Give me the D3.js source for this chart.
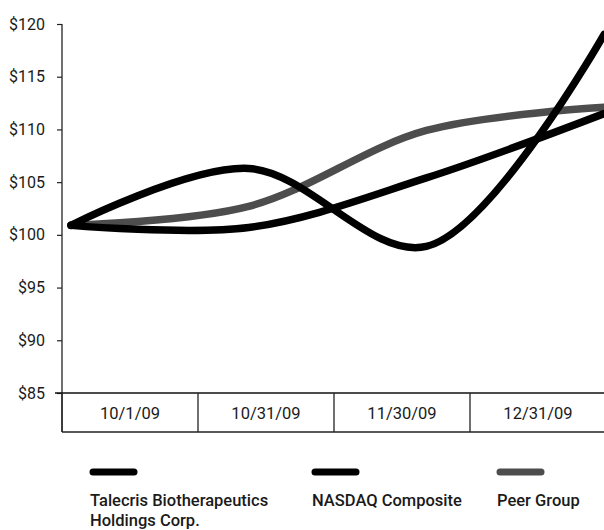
<!DOCTYPE html>
<html>
<head>
<meta charset="utf-8">
<script src="https://cdn.jsdelivr.net/npm/d3@7"></script>
<style>
  html, body { margin: 0; padding: 0; background: #fff; }
  svg text { font-family: Roboto, "Liberation Sans", sans-serif; fill: #1a1a1a; }
</style>
</head>
<body>
<svg id="chart" width="604" height="530"></svg>
<script>
const dates = ["10/1/09", "10/31/09", "11/30/09", "12/31/09"];
const talecris = [100.9, 106.3, 98.9, 119.0];
const nasdaq = [100.9, 100.7, 105.4, 111.5];
const peer = [100.9, 102.7, 109.9, 112.1];
const yTicks = [85, 90, 95, 100, 105, 110, 115, 120];
const seriesNames = ["Talecris Biotherapeutics|Holdings Corp.", "NASDAQ Composite", "Peer Group"];
const seriesColors = ["#000", "#000", "#4d4d4d"];

const svg = d3.select("#chart");
const y = d3.scaleLinear().domain([85, 120]).range([393, 24]);
const xLine = d3.scalePoint().domain(dates).range([71, 604]);
const xBand = d3.scaleBand().domain(dates).range([62, 606]);

// y axis
const yAxis = d3.axisLeft(y).tickValues(yTicks).tickSize(5).tickPadding(12)
  .tickFormat(d => "$" + d);
const gy = svg.append("g").attr("transform", "translate(62,0)").call(yAxis);
gy.select(".domain").remove();
gy.selectAll(".tick line").attr("stroke", "#222").attr("stroke-width", 1.2);
gy.selectAll(".tick text").style("font-size", "16px").attr("fill", "#1a1a1a")
  .attr("x", -17).style("font-family", "Roboto, sans-serif");
svg.append("line").attr("x1", 62).attr("x2", 62).attr("y1", 24).attr("y2", 432)
  .attr("stroke", "#222").attr("stroke-width", 1.3);

// category boxes
svg.append("line").attr("x1", 55).attr("x2", 604).attr("y1", y(85)).attr("y2", y(85))
  .attr("stroke", "#111").attr("stroke-width", 1.5);
svg.append("line").attr("x1", 62).attr("x2", 604).attr("y1", 432).attr("y2", 432)
  .attr("stroke", "#222").attr("stroke-width", 1.3);
svg.selectAll(".sep").data(dates).enter().append("line")
  .attr("x1", d => xBand(d)).attr("x2", d => xBand(d))
  .attr("y1", y(85)).attr("y2", 432)
  .attr("stroke", "#222").attr("stroke-width", 1.3);
svg.selectAll(".cat").data(dates).enter().append("text")
  .attr("x", d => xBand(d) + xBand.bandwidth() / 2)
  .attr("y", 413).attr("dy", "0.35em")
  .attr("text-anchor", "middle").style("font-size", "16.5px")
  .text(d => d);

// lines
const line = d3.line()
  .x((d, i) => xLine(dates[i]))
  .y(d => y(d))
  .curve(d3.curveCatmullRom.alpha(0.5));
const allSeries = [peer, nasdaq, talecris];
const allColors = [seriesColors[2], seriesColors[1], seriesColors[0]];
svg.append("clipPath").attr("id", "clip").append("rect")
  .attr("x", 62).attr("y", 0).attr("width", 542).attr("height", 393);
svg.append("g").attr("clip-path", "url(#clip)")
  .selectAll("path").data(allSeries).enter().append("path")
  .attr("d", d => line(d))
  .attr("fill", "none")
  .attr("stroke", (d, i) => allColors[i])
  .attr("stroke-width", 7.5)
  .attr("stroke-linecap", "round");

// legend
const legX = [90, 312, 497];
const leg = svg.selectAll(".leg").data(seriesNames).enter().append("g")
  .attr("transform", (d, i) => `translate(${legX[i]},0)`);
leg.append("line").attr("x1", 3).attr("x2", 44).attr("y1", 472).attr("y2", 472)
  .attr("stroke", (d, i) => seriesColors[i]).attr("stroke-width", 7)
  .attr("stroke-linecap", "round");
leg.each(function(d) {
  const parts = d.split("|");
  d3.select(this).selectAll("text").data(parts).enter().append("text")
    .attr("x", 0).attr("y", (p, j) => 506 + j * 20)
    .style("font-size", "16.5px").style("font-weight", 500)
    .text(p => p);
});
</script>
</body>
</html>
